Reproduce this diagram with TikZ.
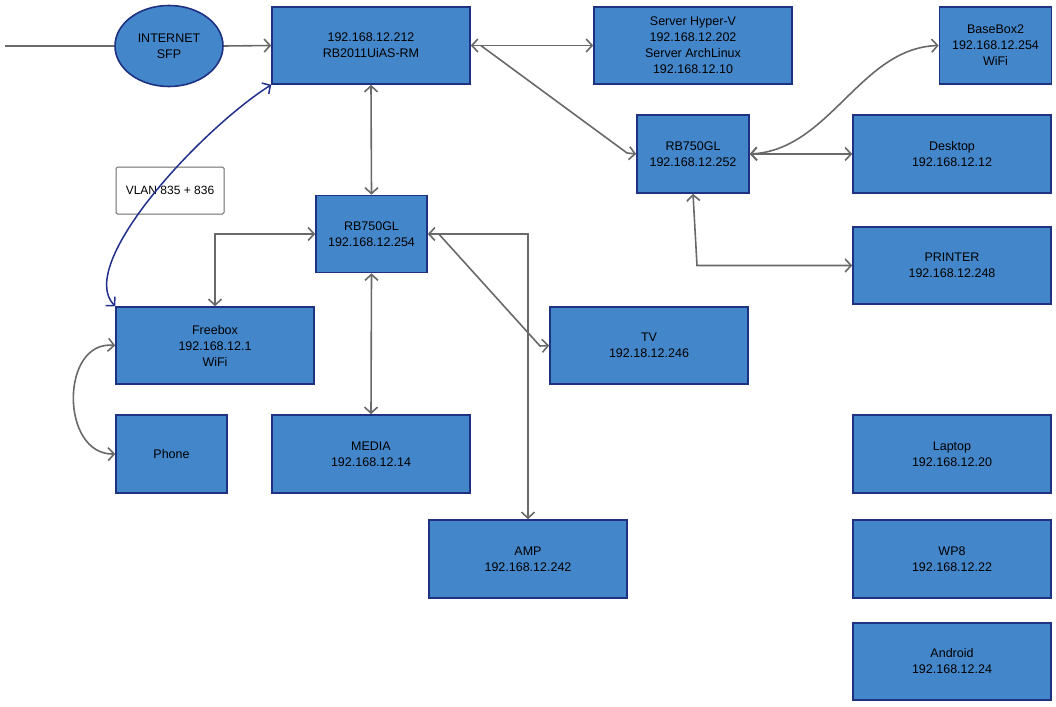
\documentclass[tikz,border=0pt]{standalone}
\usepackage{fontspec}
\setmainfont{Liberation Sans}
\usetikzlibrary{arrows.meta,shapes.geometric,calc}
\definecolor{boxblue}{RGB}{67,134,202}
\definecolor{boxedge}{RGB}{31,50,130}
\definecolor{conngray}{RGB}{105,105,105}
\definecolor{curveblue}{RGB}{34,49,138}
\tikzset{
  box/.style={draw=boxedge, fill=boxblue, line width=1.6pt, align=center, inner sep=0pt, text=black,
    font=\fontsize{12.5}{16}\selectfont, minimum width=198pt, minimum height=77pt},
  smallbox/.style={box, minimum width=111pt},
  ovalnode/.style={box, ellipse, minimum width=108pt, minimum height=81pt},
  labelbox/.style={draw=conngray, fill=white, line width=1pt, rounded corners=1.5pt, inner sep=0pt,
    minimum width=108pt, minimum height=47pt, font=\fontsize{12}{14}\selectfont},
  conn/.style={draw=conngray, line width=1.6pt, >={Straight Barb[length=6pt,width=13pt]}},
  vlancurve/.style={draw=curveblue, line width=1.5pt, >={Straight Barb[length=6pt,width=13pt]}},
}
\begin{document}
\begin{tikzpicture}[x=1pt,y=-1pt]
\useasboundingbox (0,0) rectangle (1056,706);
% nodes
\node[ovalnode] (inet) at (169,46) {INTERNET\\SFP};
\node[box] (rb2011) at (371,45.5) {192.168.12.212\\RB2011UiAS-RM};
\node[box] (hyperv) at (693,45.5) {Server Hyper-V\\192.168.12.202\\Server ArchLinux\\192.168.12.10};
\node[smallbox, minimum width=112pt] (basebox) at (995.5,45.5) {BaseBox2\\192.168.12.254\\WiFi};
\node[smallbox, minimum width=112pt, minimum height=78pt] (rb252) at (693,154) {RB750GL\\192.168.12.252};
\node[box, minimum height=78pt] (desktop) at (952,154) {Desktop\\192.168.12.12};
\node[box] (printer) at (952,265.5) {PRINTER\\192.168.12.248};
\node[smallbox] (rb254) at (371.5,234) {RB750GL\\192.168.12.254};
\node[box] (freebox) at (215,345.5) {Freebox\\192.168.12.1\\WiFi};
\node[smallbox, minimum height=78pt] (phone) at (171.5,454) {Phone};
\node[box, minimum height=78pt] (media) at (371,454) {MEDIA\\192.168.12.14};
\node[box] (tv) at (649,345.5) {TV\\192.18.12.246};
\node[box, minimum height=78pt] (amp) at (528,559) {AMP\\192.168.12.242};
\node[box, minimum height=78pt] (laptop) at (952,454) {Laptop\\192.168.12.20};
\node[box, minimum height=78pt] (wp8) at (952,559) {WP8\\192.168.12.22};
\node[box] (android) at (952,661.5) {Android\\192.168.12.24};
\node[labelbox] (vlan) at (170,190.5) {VLAN 835 + 836};
% helper coordinates
\coordinate (wan) at (5,46);
\coordinate (rbbend) at (627,153);
\coordinate (tvbend) at (540,346);
\coordinate (prbend) at (697,265.5);
% connectors
\draw[conn] (wan) -- (inet.west);
\draw[conn,->] (inet.east) -- (rb2011.west);
\draw[conn,<->] (rb2011.east) -- (hyperv.west);
\draw[conn,->] ([xshift=10pt]rb2011.east) -- (rbbend) -- (rb252.west);
\draw[conn,<->] (rb2011.south) -- (rb254.north);
\draw[vlancurve,<->] (freebox.north west) .. controls (75,265) and (200,130) .. (rb2011.south west);
\draw[conn,<->] (rb254.west) -| (freebox.north);
\draw[conn,<->] (rb254.south) -- (media.north);
\draw[conn,<->] (rb254.east) -| (amp.north);
\draw[conn,->] ([xshift=11pt]rb254.east) -- (tvbend) -- (tv.west);
\draw[conn,<->] (rb252.east) .. controls (830,150) and (860,48) .. (basebox.west);
\draw[conn,<->] (rb252.east) -- (desktop.west);
\draw[conn,<->] (rb252.south) -- (prbend) -- (printer.west);
\draw[conn,<->] (freebox.west) .. controls (60,340) and (60,455) .. (phone.west);
\end{tikzpicture}
\end{document}
